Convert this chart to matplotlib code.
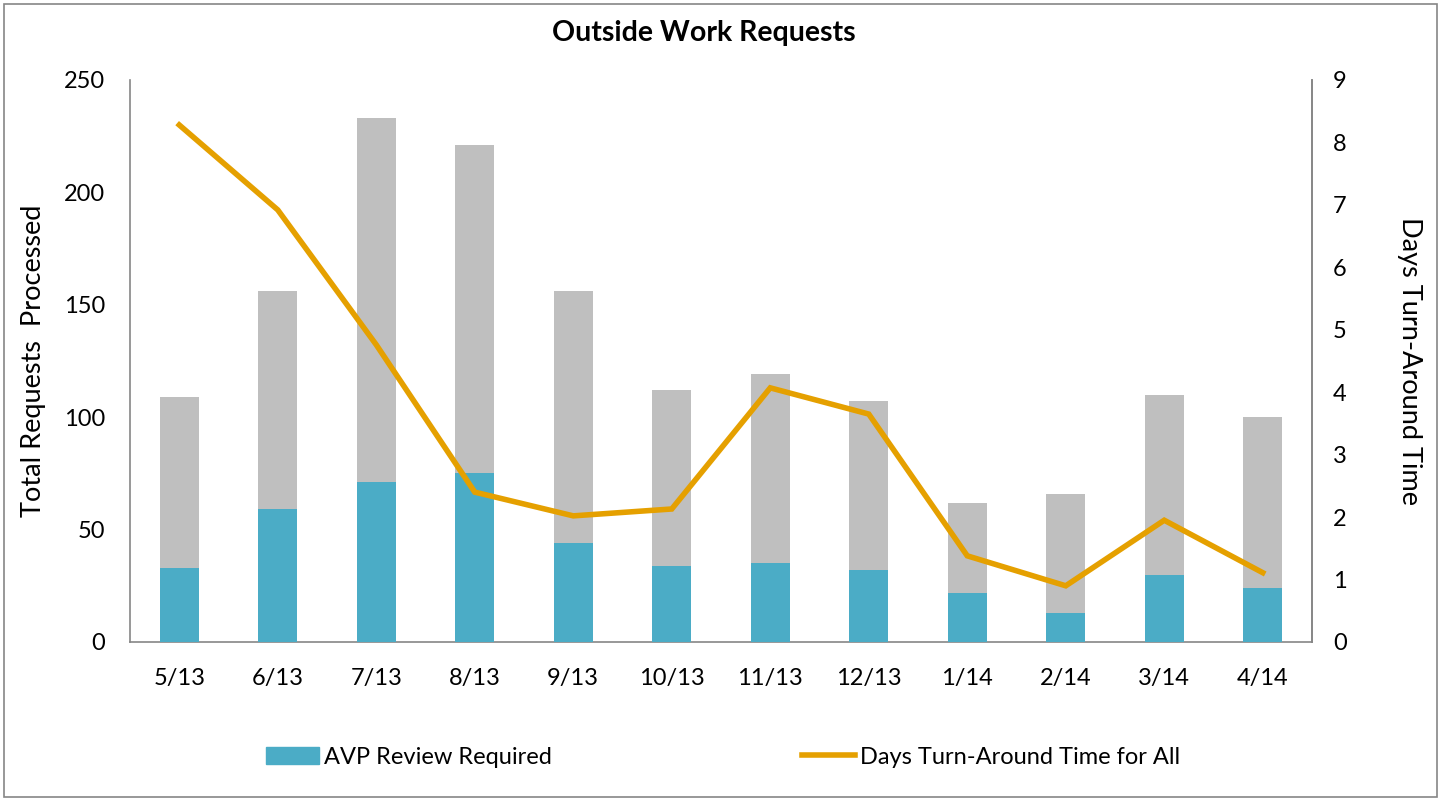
import matplotlib
matplotlib.use("Agg")
import matplotlib.pyplot as plt
from matplotlib.patches import Rectangle
from matplotlib.lines import Line2D
import numpy as np

plt.rcParams['font.family'] = ['Lato', 'DejaVu Sans']

months = ["5/13", "6/13", "7/13", "8/13", "9/13", "10/13", "11/13", "12/13", "1/14", "2/14", "3/14", "4/14"]
total_requests = [109, 156, 233, 221, 156, 112, 119, 107, 62, 66, 110, 100]
avp_review = [33, 59, 71, 75, 44, 34, 35, 32, 22, 13, 30, 24]
days_turnaround = [8.28, 6.92, 4.76, 2.40, 2.02, 2.13, 4.07, 3.65, 1.38, 0.90, 1.95, 1.11]

fig = plt.figure(figsize=(14.47, 8.01), dpi=100)
# outer frame
fig.patches.append(Rectangle((4/1447, 4/801), 1433/1447, 793/801, transform=fig.transFigure,
                             fill=False, edgecolor='#868686', linewidth=1.2))

ax = fig.add_axes([130/1447, 1-642/801, 1182/1447, 562/801])
x = np.arange(len(months))
w = 0.4
ax.bar(x, total_requests, width=w, color='#BFBFBF', zorder=2)
ax.bar(x, avp_review, width=w, color='#4BACC6', zorder=3, label='AVP Review Required')
ax.set_xlim(-0.5, len(months) - 0.5)
ax.set_ylim(0, 250)
ax.set_yticks([0, 50, 100, 150, 200, 250])
ax.set_xticks(x)
ax.set_xticklabels(months)
ax.tick_params(axis='both', length=0, labelsize=17)
ax.tick_params(axis='x', pad=19)
ax.tick_params(axis='y', pad=18)
ax.set_ylabel('Total Requests  Processed', fontsize=19.5, labelpad=13)
ax.spines['top'].set_visible(False)
for s in ['left', 'bottom', 'right']:
    ax.spines[s].set_color('#868686')
    ax.spines[s].set_linewidth(1.2)

ax2 = ax.twinx()
ax2.plot(x, days_turnaround, color='#E5A000', linewidth=4, zorder=4,
         solid_joinstyle='miter')
ax2.set_ylim(0, 9)
ax2.set_yticks(range(0, 10))
ax2.tick_params(axis='y', length=0, labelsize=17, pad=15)
ax2.set_ylabel('Days Turn-Around Time', fontsize=19.5, rotation=270, labelpad=54)
ax2.spines['top'].set_visible(False)
ax2.spines['left'].set_visible(False)
ax2.spines['bottom'].set_visible(False)
ax2.spines['right'].set_color('#868686')
ax2.spines['right'].set_linewidth(1.2)

fig.text(704/1447, 1-33/801, 'Outside Work Requests', ha='center', va='center',
         fontsize=20.5, fontweight='bold')

handles = [Rectangle((0, 0), 1, 1, color='#4BACC6'),
           Line2D([0], [0], color='#E5A000', linewidth=4)]
fig.legend(handles, ['AVP Review Required', 'Days Turn-Around Time for All'],
           loc='center', bbox_to_anchor=(723/1447, 1-757/801), ncol=2, frameon=False,
           fontsize=17, columnspacing=10.6, handlelength=2.25, handletextpad=0.2)

fig.savefig('out.png', dpi=100)
